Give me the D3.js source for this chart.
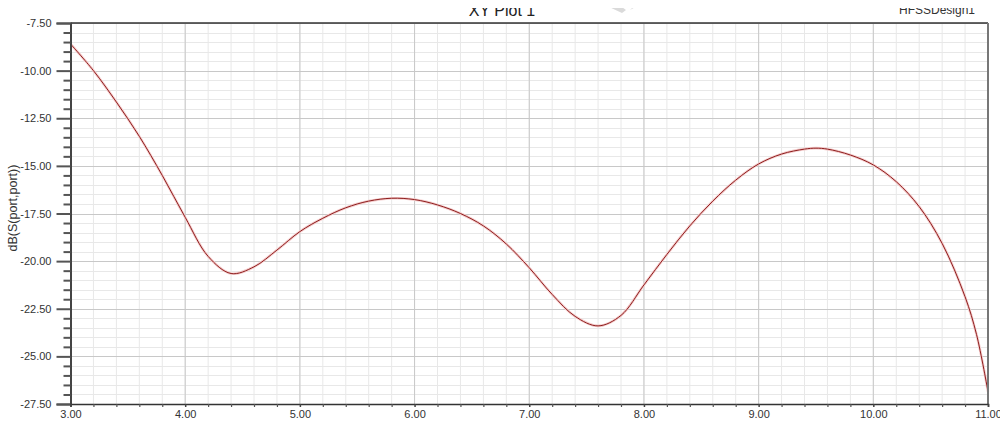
<!DOCTYPE html>
<html>
<head>
<meta charset="utf-8">
<script src="https://cdn.jsdelivr.net/npm/d3@7"></script>
<style>
  html, body { margin: 0; padding: 0; background: #fff; }
  svg { display: block; font-family: "Liberation Sans", Arial, sans-serif; }
</style>
</head>
<body>
<svg id="chart" width="1000" height="421"></svg>
<script>
// ---- data ----
const freq = [3.0, 3.2, 3.4, 3.6, 3.8, 4.0, 4.2, 4.4, 4.6, 4.8, 5.0, 5.2, 5.4, 5.6, 5.8, 6.0, 6.2, 6.4, 6.6, 6.8, 7.0, 7.2, 7.4, 7.6, 7.8, 8.0, 8.2, 8.4, 8.6, 8.8, 9.0, 9.2, 9.4, 9.5, 9.6, 9.8, 10.0, 10.2, 10.4, 10.6, 10.8, 10.9, 11.0];
const dbS = [-8.6, -10.0, -11.65, -13.45, -15.5, -17.7, -19.75, -20.65, -20.3, -19.42, -18.45, -17.75, -17.2, -16.85, -16.7, -16.77, -17.05, -17.5, -18.15, -19.1, -20.35, -21.75, -22.9, -23.4, -22.85, -21.25, -19.65, -18.15, -16.85, -15.75, -14.9, -14.38, -14.12, -14.07, -14.12, -14.43, -14.95, -15.83, -17.14, -19.07, -21.87, -23.85, -26.85];
const xTicks = [3, 4, 5, 6, 7, 8, 9, 10, 11];
const yTicks = [-7.5, -10, -12.5, -15, -17.5, -20, -22.5, -25, -27.5];
const titleText = "XY Plot 1";
const designText = "HFSSDesign1";
const yLabel = "dB(S(port,port))";

// ---- layout ----
const svg = d3.select("#chart");
const L = 70.5, R = 988, T = 23, B = 404;
const x = d3.scaleLinear().domain([3, 11]).range([L, R]);
const y = d3.scaleLinear().domain([-27.5, -7.5]).range([B, T]);
const fmt = d => d.toFixed(2);

// watermark fragment
svg.append("path")
  .attr("d", "M594,0 L612,0 L626,10 L622,13 Z M630,10 L648,0 L640,0 Z")
  .attr("fill", "#dadada");

// minor grid
const xMinor = d3.range(3, 11.0001, 0.2);
const yMinor = d3.range(-27.5, -7.4999, 0.5);
const g = svg.append("g");
g.selectAll(".xm").data(xMinor).join("line")
  .attr("x1", d => x(d)).attr("x2", d => x(d)).attr("y1", T).attr("y2", B)
  .attr("stroke", "#e8e8e8").attr("stroke-width", 1);
g.selectAll(".ym").data(yMinor).join("line")
  .attr("y1", d => Math.round(y(d)) + 0.5).attr("y2", d => Math.round(y(d)) + 0.5).attr("x1", L).attr("x2", R)
  .attr("stroke", "#e8e8e8").attr("stroke-width", 1);
// major grid
g.selectAll(".xM").data(xTicks).join("line")
  .attr("x1", d => x(d)).attr("x2", d => x(d)).attr("y1", T).attr("y2", B)
  .attr("stroke", "#c8c8c8").attr("stroke-width", 1);
g.selectAll(".yM").data(yTicks).join("line")
  .attr("y1", d => Math.round(y(d)) + 0.5).attr("y2", d => Math.round(y(d)) + 0.5).attr("x1", L).attr("x2", R)
  .attr("stroke", "#c8c8c8").attr("stroke-width", 1);

// curve
const line = d3.line().x((d, i) => x(freq[i])).y(d => y(d)).curve(d3.curveCatmullRom.alpha(0.5));
svg.append("path").datum(dbS)
  .attr("d", line)
  .attr("fill", "none")
  .attr("stroke", "#f4cccc").attr("stroke-width", 2.6);
svg.append("path").datum(dbS)
  .attr("d", line)
  .attr("fill", "none")
  .attr("stroke", "#8e1e1e").attr("stroke-width", 1);

// frame
svg.append("line").attr("x1", L).attr("x2", R).attr("y1", T).attr("y2", T)
  .attr("stroke", "#333").attr("stroke-width", 1.5);
svg.append("line").attr("x1", R).attr("x2", R).attr("y1", T).attr("y2", B)
  .attr("stroke", "#777").attr("stroke-width", 2);

// y axis
const yAxis = d3.axisLeft(y).tickValues(yTicks).tickFormat(fmt).tickSize(14).tickPadding(5);
const ya = svg.append("g").attr("transform", `translate(${L},0)`).call(yAxis);
ya.select(".domain").attr("stroke", "#444").attr("stroke-width", 2);
ya.selectAll(".tick line").attr("stroke", "#555").attr("stroke-width", 2);
ya.selectAll(".tick text").attr("font-size", 11).attr("fill", "#333")
  .attr("font-family", "'Liberation Sans', Arial, sans-serif");
const yMinorAxis = d3.axisLeft(y).tickValues(yMinor.filter(v => !yTicks.some(t => Math.abs(t - v) < 1e-6))).tickSize(7).tickFormat("");
const ym = svg.append("g").attr("transform", `translate(${L},0)`).call(yMinorAxis);
ym.select(".domain").remove();
ym.selectAll(".tick line").attr("stroke", "#555").attr("stroke-width", 2);

// x axis
const xAxis = d3.axisBottom(x).tickValues(xTicks).tickFormat(fmt).tickSize(3).tickPadding(3);
const xa = svg.append("g").attr("transform", `translate(0,${B})`).call(xAxis);
xa.select(".domain").attr("stroke", "#333").attr("stroke-width", 1.5);
xa.selectAll(".tick line").attr("stroke", "#444").attr("stroke-width", 1.5);
xa.selectAll(".tick text").attr("font-size", 11).attr("fill", "#333")
  .attr("font-family", "'Liberation Sans', Arial, sans-serif");
const xMinorAxis = d3.axisBottom(x).tickValues(xMinor.filter(v => !xTicks.some(t => Math.abs(t - v) < 1e-6))).tickSize(3).tickFormat("");
const xm = svg.append("g").attr("transform", `translate(0,${B})`).call(xMinorAxis);
xm.select(".domain").remove();
xm.selectAll(".tick line").attr("stroke", "#555").attr("stroke-width", 1.2);

// y label
svg.append("text")
  .attr("transform", "translate(17,208) rotate(-90)")
  .attr("text-anchor", "middle")
  .attr("font-size", 12.5).attr("fill", "#333")
  .text(yLabel);

// title and design name (top clipped as in reference)
svg.append("text").attr("x", 502).attr("y", 16).attr("text-anchor", "middle")
  .attr("font-size", 16).attr("fill", "#222").text(titleText);
svg.append("text").attr("x", 937).attr("y", 14).attr("text-anchor", "middle")
  .attr("font-size", 12).attr("fill", "#333").text(designText);
svg.append("rect").attr("x", 0).attr("y", 0).attr("width", 1000).attr("height", 8).attr("fill", "#fff");
</script>
</body>
</html>
